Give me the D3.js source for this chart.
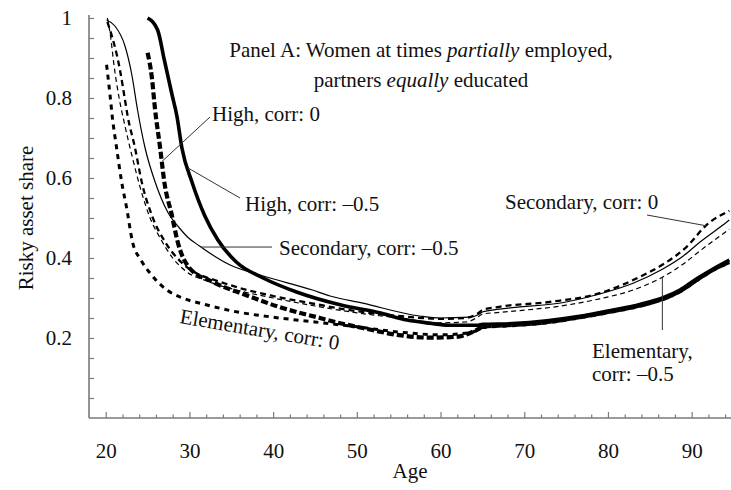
<!DOCTYPE html>
<html>
<head>
<meta charset="utf-8">
<script src="https://cdn.jsdelivr.net/npm/d3@7"></script>
<style>
  html, body { margin: 0; padding: 0; background: #fff; }
  svg { display: block; }
</style>
</head>
<body>
<svg id="chart" width="731" height="490" font-family="Liberation Serif"></svg>
<script>
// ---- Data: [age, risky asset share] ----
const highCorr0 = [[25.0,0.913],[25.5,0.853],[25.9,0.77],[26.5,0.675],[27.0,0.59],[27.9,0.507],[28.6,0.44],[30.0,0.375],[32.8,0.34],[36.8,0.307],[40.8,0.277],[45.6,0.25],[48,0.237],[50.7,0.225],[54.8,0.208],[58.7,0.201],[61.9,0.203],[63.8,0.215],[64.5,0.222],[65,0.228],[68,0.232],[72,0.238],[76,0.25],[80,0.265],[84,0.282],[86.5,0.297],[88.6,0.317],[90.6,0.345],[92.5,0.37],[94.5,0.39]];
const highCorrNeg = [[25.0,1.0],[26.2,0.97],[27.0,0.895],[27.9,0.81],[28.5,0.755],[29.1,0.675],[30.3,0.59],[31.8,0.507],[33.4,0.445],[35.6,0.39],[38.8,0.35],[42.8,0.315],[48.0,0.283],[52.7,0.263],[56,0.245],[58.7,0.237],[61,0.232],[63.5,0.232],[64.5,0.232],[65,0.234],[68.6,0.236],[72.7,0.243],[76.6,0.254],[80.6,0.27],[83.8,0.284],[86.5,0.30],[88.6,0.32],[90.6,0.348],[92.5,0.372],[94.5,0.395]];
const secCorr0 = [[20.2,0.99],[20.8,0.95],[21.3,0.91],[21.7,0.87],[22.3,0.795],[22.6,0.757],[23.5,0.675],[24.3,0.59],[25.5,0.507],[27.1,0.44],[29,0.39],[31,0.36],[33,0.345],[36,0.325],[40,0.305],[45,0.285],[50,0.267],[55,0.255],[60,0.248],[63,0.25],[64.5,0.262],[65,0.27],[67,0.278],[73,0.29],[79,0.312],[84.2,0.357],[86.5,0.383],[89.4,0.428],[91.8,0.483],[94.5,0.518]];
const secCorrNeg = [[20.1,0.995],[21.1,0.98],[22.3,0.93],[23.1,0.86],[23.8,0.77],[24.7,0.675],[25.9,0.59],[27.4,0.515],[28.8,0.475],[29.8,0.452],[31.2,0.43],[34.8,0.383],[38.8,0.355],[44.7,0.32],[46.8,0.305],[50.7,0.287],[57.5,0.255],[60,0.25],[63.5,0.252],[64.5,0.258],[65,0.265],[67,0.272],[75,0.29],[79,0.31],[83,0.337],[86.5,0.372],[89,0.405],[91,0.44],[94.2,0.49],[94.5,0.495]];
const elemCorr0 = [[20.1,0.883],[20.5,0.81],[20.8,0.75],[21.3,0.675],[21.9,0.59],[22.5,0.525],[23.2,0.44],[24.2,0.395],[25.3,0.362],[27.3,0.32],[29.2,0.30],[32,0.283],[35,0.268],[40,0.252],[45,0.24],[50,0.228],[55,0.215],[60,0.208],[63,0.212],[64.5,0.22],[65,0.226],[68,0.23],[72,0.236],[76,0.248],[80,0.263],[84,0.28],[86.5,0.296],[88.6,0.315],[90.6,0.343],[92.5,0.368],[94.5,0.388]];
const elemCorrNeg = [[20.2,1.0],[20.6,0.95],[21.0,0.88],[21.6,0.80],[22.3,0.73],[23.2,0.65],[24.2,0.57],[25.3,0.50],[26.5,0.45],[28,0.40],[29.7,0.365],[32,0.343],[36,0.318],[40,0.30],[45,0.28],[50,0.263],[55,0.25],[60,0.238],[63,0.24],[64.5,0.253],[65,0.26],[67,0.264],[75,0.282],[79,0.298],[83,0.32],[86.5,0.352],[89,0.385],[91,0.418],[94.5,0.472]];

const yTickLabels = [0.2, 0.4, 0.6, 0.8, 1];
const xTickLabels = [20, 30, 40, 50, 60, 70, 80, 90];
const titleLine1 = ["Panel A: Women at times ", "partially", " employed,"];
const titleLine2 = ["partners ", "equally", " educated"];
const yLabel = "Risky asset share";
const xLabel = "Age";

// ---- Layout ----
const FAMILY = "Liberation Serif";
const FONT = 21;
const svg = d3.select("#chart");
const x = d3.scaleLinear().domain([18, 94.7]).range([89, 731]);
const y = d3.scaleLinear().domain([0, 1]).range([418, 18]);

const series = [
  { data: elemCorr0,   width: 3.0, dash: "5,5" },
  { data: elemCorrNeg, width: 1.2, dash: "5,3.5" },
  { data: secCorrNeg,  width: 1.2, dash: null },
  { data: secCorr0,    width: 2.3, dash: "6,4" },
  { data: highCorr0,   width: 4.2, dash: "7,3" },
  { data: highCorrNeg, width: 3.6, dash: null }
];

function fontify(sel) {
  sel.attr("font-family", FAMILY).attr("font-size", FONT).attr("fill", "#111");
}

// axes
const axisColor = "#7a7a7a";
const gy = svg.append("g").attr("transform", "translate(89,0)")
  .call(d3.axisLeft(y).tickValues(d3.range(0.05, 1.001, 0.05)).tickSize(-5).tickSizeOuter(0).tickFormat(""));
gy.select(".domain").attr("stroke", axisColor).attr("stroke-width", 1.6).attr("d", `M0,${y(0)}V15`);
gy.selectAll(".tick line").attr("stroke", axisColor).attr("stroke-width", 1.2);

const gyl = svg.append("g").attr("transform", "translate(89,0)")
  .call(d3.axisLeft(y).tickValues(yTickLabels).tickSize(0).tickPadding(17)
    .tickFormat(d => d === 1 ? "1" : d3.format(".1f")(d)));
gyl.attr("font-family", FAMILY).attr("font-size", FONT);
gyl.select(".domain").remove();
fontify(gyl.selectAll("text"));

const xMinor = d3.range(20, 95, 2).filter(d => d % 10 !== 0);
const gxm = svg.append("g").attr("transform", "translate(0,418)")
  .call(d3.axisBottom(x).tickValues(xMinor).tickSize(-3.5).tickSizeOuter(0).tickFormat(""));
gxm.select(".domain").attr("stroke", axisColor).attr("stroke-width", 1.6).attr("d", `M89,0H731`);
gxm.selectAll(".tick line").attr("stroke", axisColor).attr("stroke-width", 1.2);

const gx = svg.append("g").attr("transform", "translate(0,418)")
  .call(d3.axisBottom(x).tickValues(xTickLabels).tickSize(-6).tickPadding(25).tickFormat(d3.format("d")));
gx.attr("font-family", FAMILY).attr("font-size", FONT);
gx.select(".domain").remove();
gx.selectAll(".tick line").attr("stroke", axisColor).attr("stroke-width", 1.2);
fontify(gx.selectAll("text"));

// axis titles
fontify(svg.append("text").attr("x", 410).attr("y", 478).attr("text-anchor", "middle").text(xLabel));
fontify(svg.append("text").attr("transform", `translate(33,${y(0.5)}) rotate(-90)`).attr("text-anchor", "middle").text(yLabel));

// lines
const line = d3.line().x(d => x(d[0])).y(d => y(d[1])).curve(d3.curveMonotoneX);
svg.append("g").selectAll("path").data(series).join("path")
  .attr("d", s => line(s.data))
  .attr("fill", "none")
  .attr("stroke", "#000")
  .attr("stroke-width", s => s.width)
  .attr("stroke-dasharray", s => s.dash)
  .attr("stroke-linejoin", "round");

// title
function titleRow(parts, yy) {
  const t = svg.append("text").attr("x", 421).attr("y", yy).attr("text-anchor", "middle");
  fontify(t);
  parts.forEach((p, i) => t.append("tspan").text(p).attr("font-style", i === 1 ? "italic" : "normal"));
}
titleRow(titleLine1, 57);
titleRow(titleLine2, 87);

// annotations
function valAt(data, age) {
  for (let i = 1; i < data.length; i++) {
    if (data[i][0] >= age) {
      const [a0, v0] = data[i - 1], [a1, v1] = data[i];
      return v0 + (v1 - v0) * (age - a0) / (a1 - a0);
    }
  }
  return data[data.length - 1][1];
}
function leader(x1, y1, x2, y2) {
  svg.append("line").attr("x1", x1).attr("y1", y1).attr("x2", x2).attr("y2", y2)
    .attr("stroke", "#333").attr("stroke-width", 1);
}
function label(txt, xx, yy) {
  fontify(svg.append("text").attr("x", xx).attr("y", yy).text(txt));
}
// High, corr: 0
leader(210, 117, x(26.7), y(valAt(highCorr0, 26.7)));
label("High, corr: 0", 212, 121);
// High, corr: -0.5
leader(240, 198, x(29.8), y(valAt(highCorrNeg, 29.8)));
label("High, corr: \u20130.5", 245, 211);
// Secondary, corr: -0.5
const ySec = y(valAt(secCorrNeg, 31.4));
leader(x(31.4), ySec, 272, ySec);
label("Secondary, corr: \u20130.5", 279, 255);
// Secondary, corr: 0
leader(647, 215, x(91.7), y(valAt(secCorr0, 91.7)));
label("Secondary, corr: 0", 505, 209);
// Elementary, corr: -0.5
leader(x(86.5), y(valAt(elemCorrNeg, 86.5)), x(86.5), 330);
label("Elementary,", 592, 358);
label("corr: \u20130.5", 592, 381);
// Elementary, corr: 0 (rotated along its curve)
fontify(svg.append("text").attr("transform", "translate(179,323) rotate(9.6)").text("Elementary, corr: 0"));
</script>
</body>
</html>
